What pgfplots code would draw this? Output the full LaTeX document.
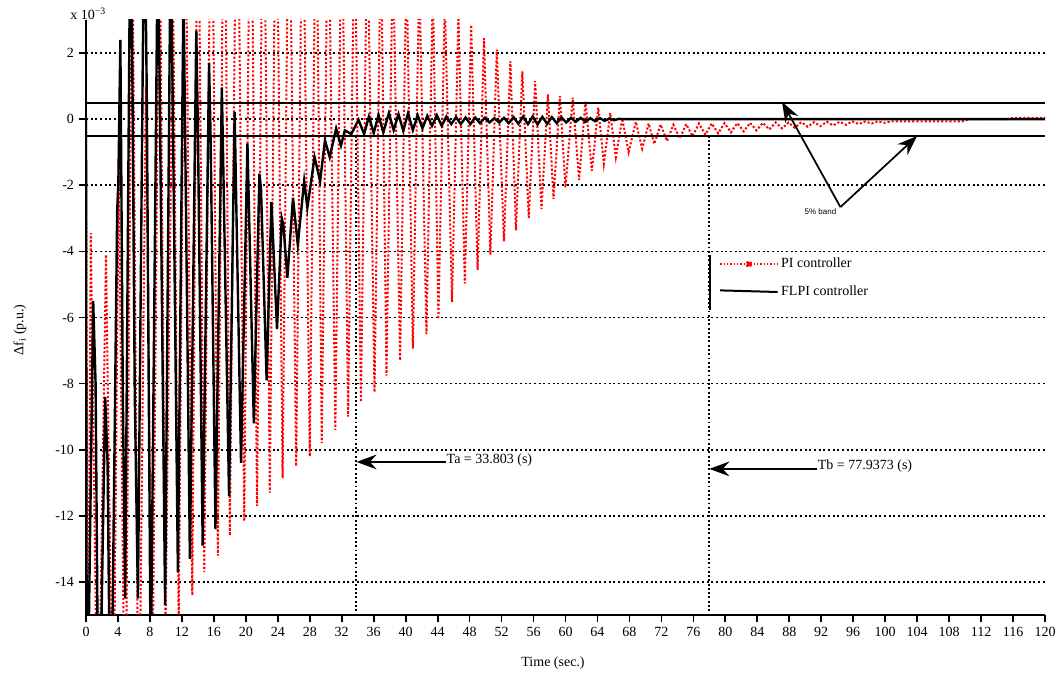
\documentclass[border=0pt]{standalone}
\usepackage{fontspec}
\setmainfont{Liberation Serif}
\newfontfamily\sansf{Liberation Sans}
\usepackage{pgfplots}
\pgfplotsset{compat=1.18}
\usetikzlibrary{arrows.meta}

\begin{document}
\begin{tikzpicture}
\begin{axis}[
  at={(0,0)}, anchor=south west,
  scale only axis, width=719.25pt, height=446.25pt,
  xmin=0, xmax=120, ymin=-15, ymax=3,
  axis x line*=bottom, axis y line*=left,
  axis line style={line width=1.6pt, -},
  xtick={0,4,...,120},
  xticklabels={0,4,8,12,16,20,24,28,32,36,40,44,48,52,56,60,64,68,72,76,80,84,88,92,96,100,104,108,112,116,120},
  ytick={-14,-12,...,2},
  yticklabels={-14,-12,-10,-8,-6,-4,-2,0,2},
  tick align=outside, major tick length=5.5pt,
  tick style={line width=1.3pt, black},
  ymajorgrids,
  grid style={black, line width=1.2pt, dash pattern=on 1.6pt off 1.9pt},
  tick label style={font=\fontsize{10.5}{12}\selectfont},
  xlabel={Time (sec.)},
  xlabel style={at={(axis description cs:0.487,0)}, anchor=center, yshift=-36pt, font=\fontsize{10.5}{12}\selectfont},
  ylabel={Δf\textsubscript{i} (p.u.)},
  ylabel style={at={(axis description cs:-0.0688,0.479)}, anchor=center, font=\fontsize{10.5}{12}\selectfont},
  legend cell align=left,
  legend style={draw=none, fill=none, at={(axis cs:79.2,-4.12)}, anchor=north west,
    inner sep=0pt, row sep=7.5pt, font=\fontsize{10.5}{12}\selectfont},
]
% PI controller
\addplot[red, line width=1.5pt, dash pattern=on 1.6pt off 1.5pt,
  legend image code/.code={\draw[red, line width=1.1pt, dash pattern=on 1.1pt off 1.4pt] (0pt,0pt) -- (43pt,0pt); \fill[red] (21.5pt,0pt) circle (1.8pt);}]
coordinates {
(0,0) (0.2,-20) (0.6,-3.45) (1.5,-20) (2.5,-4.1) (3.4,-20) (4.1,-1.3) (4.9,-20) (5.8,6) (6.6,-20) (7.5,1.0) (8.3,-18) (9.2,7) (9.95,-15.5) (10.9,4) (11.6,-15.3) (12.4,8) (13.3,-14.4) (14.0,9) (14.8,-13.7) (15.7,10) (16.5,-13.2) (17.3,10) (18.0,-12.6) (18.9,10) (19.8,-12.16) (20.6,10) (21.4,-11.7) (22.2,9.5) (23.0,-11.3) (23.8,9) (24.6,-10.86) (25.4,8.6) (26.3,-10.5) (27.1,8.2) (28.0,-10.2) (28.8,7.8) (29.5,-9.8) (30.3,7.4) (31.2,-9.4) (32.0,7.0) (32.8,-9.0) (33.6,6.5) (34.4,-8.56) (35.2,6.1) (36.1,-8.26) (36.9,5.7) (37.6,-7.76) (38.4,5.2) (39.3,-7.3) (40.1,4.8) (40.9,-6.94) (41.7,4.4) (42.6,-6.5) (43.4,4.0) (44.1,-6.05) (44.9,3.6) (45.8,-5.53) (46.6,3.2) (47.4,-4.97) (48.2,2.85) (49.0,-4.56) (49.8,2.45) (50.6,-4.1) (51.4,2.1) (52.3,-3.7) (53.1,1.75) (53.8,-3.36) (54.6,1.45) (55.4,-2.99) (56.2,1.15) (57.0,-2.72) (57.8,0.75) (58.5,-2.42) (59.3,0.7) (60.0,-2.07) (60.9,0.65) (61.7,-1.84) (62.5,0.53) (63.3,-1.56) (64.1,0.35) (64.8,-1.35) (65.6,0.18) (66.3,-1.15) (67.1,0.02) (67.9,-1.0) (68.8,-0.08) (69.6,-0.89) (70.4,-0.13) (71.1,-0.75) (71.9,-0.16) (72.7,-0.66) (73.5,-0.17) (74.3,-0.58) (75.1,-0.15) (75.9,-0.52) (76.7,-0.13) (77.5,-0.47) (78.3,-0.13) (79.1,-0.43) (79.9,-0.12) (80.7,-0.40) (81.5,-0.12) (82.3,-0.37) (83.1,-0.11) (83.9,-0.34) (84.7,-0.11) (85.5,-0.31) (86.3,-0.1) (87.1,-0.28) (87.9,-0.1) (88.7,-0.26) (89.5,-0.09) (90.3,-0.23) (91.1,-0.09) (91.9,-0.21) (92.7,-0.08) (93.5,-0.19) (94.3,-0.08) (95.1,-0.17) (95.9,-0.07) (96.7,-0.15) (97.5,-0.07) (98.3,-0.13) (99.1,-0.07) (99.9,-0.11) (100.7,-0.07) (109.6,-0.07) (110.5,0) (115.5,0) (116,0.04) (120,0.04)
};
\addlegendentry{PI controller}
% 5% band
\addplot[black, line width=1.5pt, forget plot] coordinates {(0,0.5) (120,0.5)};
\addplot[black, line width=1.5pt, forget plot] coordinates {(0,-0.5) (120,-0.5)};
% FLPI controller
\addplot[black, line width=1.8pt,
  legend image code/.code={\draw[black, line width=1.5pt] (0pt,0.6pt) -- (43pt,-0.6pt);}]
coordinates {
(0,0) (0.1,-20) (0.9,-5.5) (1.2,-8.0) (1.6,-20) (2.4,-8.4) (2.7,-10.4) (3.1,-20) (3.9,-2.8) (4.05,-1.9) (4.3,2.4) (4.6,-8.1) (4.9,-14.5) (5.6,8) (6.1,-8.3) (6.5,-14.5) (7.3,7) (7.6,0.9) (8.1,-17) (9.0,6) (9.9,-14.7) (10.6,6) (11.5,-13.7) (12.2,4) (13.0,-13.3) (13.8,2.67) (14.0,-0.24) (14.6,-12.9) (15.4,1.7) (15.6,-0.64) (16.2,-12.4) (17.0,0.96) (17.2,-1.7) (17.9,-11.4) (18.6,0.22) (18.8,-2.5) (19.4,-10.4) (20.2,-0.73) (20.4,-2.78) (21.0,-9.2) (21.7,-1.65) (21.9,-2.1) (22.6,-7.9) (23.2,-2.5) (23.9,-6.35) (24.5,-3.0) (24.7,-3.2) (25.2,-4.8) (25.9,-2.38) (26.5,-3.8) (27.3,-1.87) (27.7,-2.68) (28.6,-1.15) (29.3,-1.87) (29.9,-0.64) (30.5,-1.15) (31.3,-0.28) (31.9,-0.8) (32.4,-0.34) (33.2,-0.45) (34.1,-0.02) (34.8,-0.45) (35.4,0.08) (36.0,-0.42) (36.6,0.12) (37.2,-0.4) (37.9,0.18) (38.5,-0.33) (39.1,0.15) (39.7,-0.35) (40.3,0.18) (40.9,-0.33) (41.5,0.12) (42.1,-0.28) (42.7,0.1) (43.3,-0.2) (43.9,0.12) (44.5,-0.2) (45.1,0.08) (45.7,-0.15) (46.3,0.06) (46.9,-0.15) (47.5,0.05) (48.1,-0.15) (48.7,0.05) (49.3,-0.12) (49.9,0.04) (50.5,-0.1) (51.1,0.03) (51.7,-0.1) (52.3,0.04) (52.9,-0.12) (53.5,0.06) (54.1,-0.14) (54.7,0.08) (55.3,-0.15) (55.9,0.08) (56.5,-0.16) (57.1,0.07) (57.7,-0.14) (58.3,0.06) (58.9,-0.12) (59.5,0.05) (60.1,-0.1) (60.7,0.04) (61.3,-0.08) (61.9,0.04) (62.5,-0.08) (63.1,0.03) (63.7,-0.06) (64.3,0.03) (64.9,-0.05) (65.5,0.02) (66.1,-0.03) (66.7,0.01) (67.2,0) (120,0)
};
\addlegendentry{FLPI controller}
% settling-time markers
\draw[black, line width=1.2pt, dash pattern=on 1.4pt off 1.8pt] (axis cs:33.803,-0.5) -- (axis cs:33.803,-15);
\draw[black, line width=1.2pt, dash pattern=on 1.4pt off 1.8pt] (axis cs:77.9373,-0.5) -- (axis cs:77.9373,-15);
% legend bar
\draw[black, line width=1.5pt] (axis cs:78.1,-4.11) -- (axis cs:78.1,-5.77);
% annotations
\draw[black, line width=1.3pt, -{Stealth[length=15pt, width=11pt, inset=5pt]}] (axis cs:45.05,-10.37) -- (axis cs:33.85,-10.37);
\node[anchor=west, inner sep=0pt, font=\fontsize{10.5}{12}\selectfont] at (axis cs:45.1,-10.3) {Ta = 33.803 (s)};
\draw[black, line width=1.3pt, -{Stealth[length=15pt, width=11pt, inset=5pt]}] (axis cs:91.5,-10.58) -- (axis cs:78.0,-10.58);
\node[anchor=west, inner sep=0pt, font=\fontsize{10.5}{12}\selectfont] at (axis cs:91.55,-10.5) {Tb = 77.9373 (s)};
\draw[black, line width=1.3pt, -{Stealth[length=15pt, width=11pt, inset=5pt]}] (axis cs:94.4,-2.66) -- (axis cs:87.1,0.52);
\draw[black, line width=1.3pt, -{Stealth[length=15pt, width=11pt, inset=5pt]}] (axis cs:94.4,-2.66) -- (axis cs:104.0,-0.51);
\node[font=\sansf\fontsize{6}{7}\selectfont, inner sep=0pt] at (axis cs:91.9,-2.8) {5\% band};
\end{axis}
\node[anchor=west, inner sep=0pt, font=\fontsize{10.5}{12}\selectfont] at (-12pt,450.75pt) {x 10\textsuperscript{−3}};
\pgfresetboundingbox
\path[use as bounding box] (-64.5pt,-45pt) rectangle (728.25pt,461.25pt);
\end{tikzpicture}
\end{document}
